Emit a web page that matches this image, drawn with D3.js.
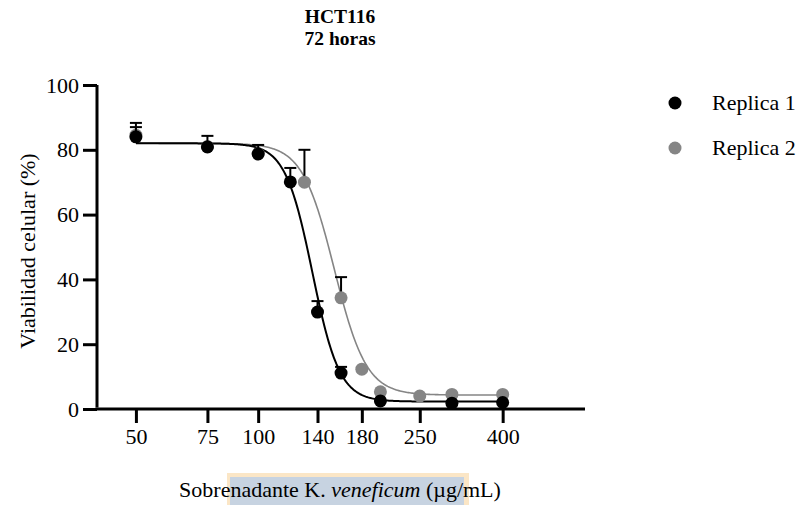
<!DOCTYPE html>
<html>
<head>
<meta charset="utf-8">
<script src="https://cdn.jsdelivr.net/npm/d3@7"></script>
<style>
  html, body { margin: 0; padding: 0; background: #fff; }
  svg { display: block; }
</style>
</head>
<body>
<svg id="chart" width="799" height="505"></svg>
<script>
// ---- Data ----
const titleLines = ["HCT116", "72 horas"];
const xTicks = [50, 75, 100, 140, 180, 250, 400];
const yTicks = [0, 20, 40, 60, 80, 100];
const seriesNames = ["Replica 1", "Replica 2"];
const seriesColors = ["#000000", "#858585"];

// Replica 1 (black)
const rep1Conc  = [50, 75, 100, 120, 140, 160, 200, 300, 400];
const rep1Mean  = [84.0, 80.9, 78.7, 70.1, 29.9, 11.1, 2.5, 1.8, 2.0];
const rep1Upper = [87.0, 84.3, 81.5, 74.4, 33.3, 13.0, 2.5, 1.8, 2.0];

// Replica 2 (grey)
const rep2Conc  = [50, 75, 100, 130, 160, 180, 200, 250, 300, 400];
const rep2Mean  = [84.5, 81.0, 78.8, 70.0, 34.3, 12.3, 5.3, 4.0, 4.5, 4.5];
const rep2Upper = [88.3, 81.0, 78.8, 80.0, 40.7, 12.3, 5.3, 4.0, 4.5, 4.5];

// Fitted 4-parameter logistic curves: [top, bottom, IC50, hill]
const rep1Fit = [82.0, 2.3, 136, 13];
const rep2Fit = [82.0, 4.3, 154, 11];

// ---- Layout ----
const FONT = '"Liberation Serif"';
const svg = d3.select("#chart");
const x = d3.scaleLog().domain([40.1, 638]).range([97, 585]);
const y = d3.scaleLinear().domain([0, 100]).range([409, 85]);

// Highlight artefact behind x title
svg.append("rect").attr("x", 227).attr("y", 473).attr("width", 242).attr("height", 32).attr("fill", "#fbe6c6");
svg.append("rect").attr("x", 230).attr("y", 477).attr("width", 234).attr("height", 28).attr("fill", "#c7d3e1");

// Title
svg.append("g").selectAll("text").data(titleLines).join("text")
  .attr("x", 340).attr("y", (d, i) => 23 + i * 22)
  .attr("text-anchor", "middle").style("font-family", FONT)
  .style("font-weight", "bold").style("font-size", "19.5px")
  .text(d => d);

// Axes
const yAxis = d3.axisLeft(y).tickValues(yTicks).tickSize(14).tickPadding(4).tickSizeOuter(0);
const gy = svg.append("g").attr("transform", "translate(97,0)").call(yAxis);
const xAxis = d3.axisBottom(x).tickValues(xTicks).tickFormat(d3.format("d")).tickSize(14).tickPadding(5).tickSizeOuter(0);
const gx = svg.append("g").attr("transform", "translate(0,409)").call(xAxis);
[gx, gy].forEach(g => {
  g.select(".domain").attr("stroke", "#000").attr("stroke-width", 3);
  g.selectAll(".tick line").attr("stroke", "#000").attr("stroke-width", 3);
  g.selectAll(".tick text").style("font-size", "22px").style("font-family", FONT).attr("fill", "#000");
});
gy.select(".domain").attr("d", "M0,407.5V85");
gx.select(".domain").attr("d", "M95.5,0H585");

// Axis titles
svg.append("text").attr("transform", "translate(35,251) rotate(-90)").style("font-family", FONT)
  .attr("text-anchor", "middle").style("font-size", "22px").text("Viabilidad celular (%)");
const xt = svg.append("text").attr("x", 340).attr("y", 497).attr("text-anchor", "middle")
  .style("font-size", "22px").style("font-family", FONT);
xt.append("tspan").text("Sobrenadante K. ");
xt.append("tspan").style("font-style", "italic").text("veneficum");
xt.append("tspan").text(" (µg/mL)");

// Curves
const logistic = (p, c) => p[1] + (p[0] - p[1]) / (1 + Math.pow(c / p[2], p[3]));
const curveX = d3.range(0, 301).map(i => Math.exp(Math.log(50) + i / 300 * (Math.log(400) - Math.log(50))));
const line = d3.line().x(d => x(d[0])).y(d => y(d[1]));
const series = [
  { conc: rep2Conc, mean: rep2Mean, upper: rep2Upper, fit: rep2Fit, color: seriesColors[1], lw: 1.6 },
  { conc: rep1Conc, mean: rep1Mean, upper: rep1Upper, fit: rep1Fit, color: seriesColors[0], lw: 2 }
];
series.forEach(s => {
  svg.append("path").attr("fill", "none").attr("stroke", s.color).attr("stroke-width", s.lw)
    .attr("d", line(curveX.map(c => [c, logistic(s.fit, c)])));
});
series.forEach(s => {
  const g = svg.append("g");
  s.conc.forEach((c, i) => {
    if (s.upper[i] > s.mean[i] + 0.1) {
      g.append("line").attr("x1", x(c)).attr("x2", x(c)).attr("y1", y(s.mean[i])).attr("y2", y(s.upper[i]))
        .attr("stroke", "#000").attr("stroke-width", 2);
      g.append("line").attr("x1", x(c) - 6).attr("x2", x(c) + 6).attr("y1", y(s.upper[i])).attr("y2", y(s.upper[i]))
        .attr("stroke", "#000").attr("stroke-width", 2);
    }
  });
  g.selectAll("circle").data(s.conc).join("circle")
    .attr("cx", d => x(d)).attr("cy", (d, i) => y(s.mean[i])).attr("r", 6.5).attr("fill", s.color);
});

// Legend
const lg = svg.append("g").selectAll("g").data(seriesNames).join("g")
  .attr("transform", (d, i) => `translate(675,${103 + i * 45})`);
lg.append("circle").attr("r", 6.5).attr("fill", (d, i) => seriesColors[i]);
lg.append("text").attr("x", 37).attr("y", 7).style("font-size", "22px").style("font-family", FONT).text(d => d);
</script>
</body>
</html>
